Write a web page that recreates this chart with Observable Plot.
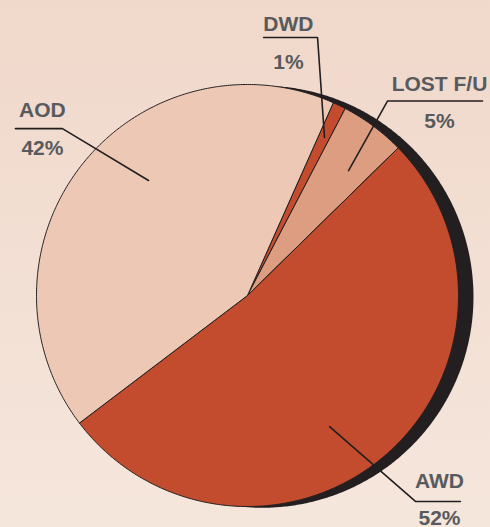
<!DOCTYPE html>
<html>
<head>
<meta charset="utf-8">
<script src="https://cdn.jsdelivr.net/npm/d3@7"></script>
<script src="https://cdn.jsdelivr.net/npm/@observablehq/plot@0.6"></script>
<style>
  html, body { margin: 0; padding: 0; }
  body { width: 490px; height: 527px; overflow: hidden;
         background: linear-gradient(to bottom, #f0d8ca 0%, #f5e6dc 100%); }
  svg { display: block; }
</style>
</head>
<body>
<div id="chart"></div>
<script>
// ---- data ----
const categories = ["DWD", "LOST F/U", "AWD", "AOD"];
const percents   = [1, 5, 52, 42];
const pctLabels  = ["1%", "5%", "52%", "42%"];
const sliceColors = ["#c24c2d", "#dc9d80", "#c24c2d", "#ecc8b5"];

// ---- layout (pie radius = 1 data unit, centre at 0,0) ----
const W = 490, H = 527, R = 211, CX = 247, CY = 295;
const startDeg = 24;
const shadowOffset = [0.071, -0.006];
// label layout: text centre x, label y, pct y, underline y, underline x0/x1, elbow side, inner point
const labelLayout = [
  {tx: 0.194, ly: 1.284, py: 1.104, uy: 1.223, ux0: 0.076, ux1: 0.332, elbow: "right", ix: 0.365, iy: 0.749},
  {tx: 0.910, ly: 1.000, py: 0.825, uy: 0.922, ux0: 0.664, ux1: 1.114, elbow: "left",  ix: 0.479, iy: 0.592},
  {tx: 0.910, ly: -0.882, py: -1.057, uy: -0.976, ux0: 0.796, ux1: 1.009, elbow: "left", ix: 0.389, iy: -0.621},
  {tx: -0.972, ly: 0.877, py: 0.697, uy: 0.791, ux0: -1.100, ux1: -0.877, elbow: "right", ix: -0.469, iy: 0.545}
];

// ---- build slice polygons with d3.pie ----
const arcs = d3.pie().sort(null)
  .startAngle(startDeg * Math.PI / 180)
  .endAngle(startDeg * Math.PI / 180 + 2 * Math.PI)(percents);

const slicePts = [];
arcs.forEach((a, i) => {
  const cat = categories[i];
  slicePts.push({cat, x: 0, y: 0});
  const n = Math.max(4, Math.ceil((a.endAngle - a.startAngle) / (Math.PI / 360)));
  for (let k = 0; k <= n; k++) {
    const t = a.startAngle + (a.endAngle - a.startAngle) * k / n;
    slicePts.push({cat, x: Math.sin(t), y: Math.cos(t)});
  }
  slicePts.push({cat, x: 0, y: 0});
});

const shadowPts = d3.range(0, 721).map(k => {
  const t = k * Math.PI / 360;
  return {x: shadowOffset[0] + Math.sin(t), y: shadowOffset[1] + Math.cos(t)};
});

const leaderPts = [];
labelLayout.forEach((L, i) => {
  const far = L.elbow === "right" ? L.ux0 : L.ux1;
  const el = L.elbow === "right" ? L.ux1 : L.ux0;
  leaderPts.push({cat: categories[i], x: far, y: L.uy});
  leaderPts.push({cat: categories[i], x: el, y: L.uy});
  leaderPts.push({cat: categories[i], x: L.ix, y: L.iy});
});

const textRows = [];
labelLayout.forEach((L, i) => {
  textRows.push({x: L.tx, y: L.ly, t: categories[i]});
  textRows.push({x: L.tx, y: L.py, t: pctLabels[i]});
});

const chart = Plot.plot({
  width: W, height: H,
  margin: 0,
  style: {background: "transparent", fontFamily: "'Liberation Sans', Arial, sans-serif"},
  x: {domain: [-CX / R, (W - CX) / R], axis: null},
  y: {domain: [-(H - CY) / R, CY / R], axis: null},
  color: {domain: categories, range: sliceColors, type: "ordinal"},
  marks: [
    Plot.line(shadowPts, {x: "x", y: "y", fill: "#231f20", stroke: "none", curve: "linear"}),
    Plot.line(slicePts, {x: "x", y: "y", z: "cat", fill: "cat", stroke: "#231f20",
                         strokeWidth: 1, strokeLinejoin: "round", curve: "linear"}),
    Plot.line(leaderPts, {x: "x", y: "y", z: "cat", stroke: "#231f20", strokeWidth: 1.6,
                          strokeLinejoin: "miter", curve: "linear"}),
    Plot.text(textRows, {x: "x", y: "y", text: "t", fill: "#585a5d", fontSize: 21,
                         fontWeight: "bold", textAnchor: "middle", lineAnchor: "middle"})
  ]
});
document.getElementById("chart").appendChild(chart);
</script>
</body>
</html>
